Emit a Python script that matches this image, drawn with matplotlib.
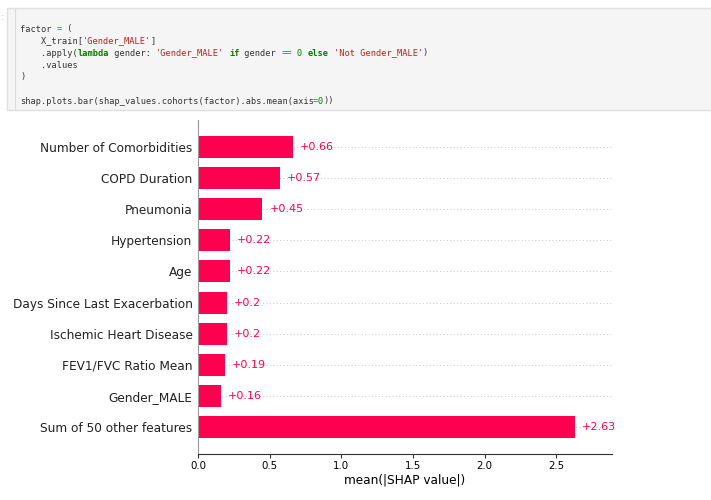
import matplotlib.pyplot as plt
from matplotlib.patches import Rectangle

# feature names and mean(|SHAP|) values, top to bottom
features = ["Number of Comorbidities", "COPD Duration", "Pneumonia", "Hypertension",
            "Age", "Days Since Last Exacerbation", "Ischemic Heart Disease",
            "FEV1/FVC Ratio Mean", "Gender_MALE", "Sum of 50 other features"]
values = [0.66, 0.57, 0.45, 0.22, 0.22, 0.2, 0.2, 0.19, 0.16, 2.63]
labels = ["+0.66", "+0.57", "+0.45", "+0.22", "+0.22", "+0.2", "+0.2", "+0.19", "+0.16", "+2.63"]

# code cell text, split in (text, kind) pieces for the highlighting
code_lines = [
    [("factor ", "t"), ("=", "op"), (" (", "t")],
    [("    X_train[", "t"), ("'Gender_MALE'", "s"), ("]", "t")],
    [("    .apply(", "t"), ("lambda", "k"), (" gender: ", "t"), ("'Gender_MALE'", "s"), (" ", "t"),
     ("if", "k"), (" gender ", "t"), ("==", "op"), (" ", "t"), ("0", "n"), (" ", "t"),
     ("else", "k"), (" ", "t"), ("'Not Gender_MALE'", "s"), (")", "t")],
    [("    .values", "t")],
    [(")", "t")],
    [],
    [("shap.plots.bar(shap_values.cohorts(factor).abs.mean(axis", "t"), ("=", "op"), ("0", "n"), ("))", "t")],
]
colors = {"t": "#333333", "op": "#aa22ff", "s": "#ba2121", "k": "#008000", "n": "#008000"}

red = "#ff0051"
W, H = 711, 500

fig = plt.figure(figsize=(7.11, 5.0), dpi=100)

# code cell box
fig.patches.append(Rectangle((7 / W, 1 - 110 / H), 1.0, 102 / H, transform=fig.transFigure,
                             facecolor="#f5f5f5", edgecolor="#e0e0e0", lw=1, zorder=0))
fig.add_artist(plt.Line2D([15 / W, 15 / W], [1 - 109 / H, 1 - 9 / H], transform=fig.transFigure,
                          color="#dddddd", lw=0.8))
fig.text(1 / W, 1 - 17 / H, ":", color="#bbbbbb", fontsize=7, va="center", ha="left")

code_fs = 6.25
cw = code_fs / 72 * 100 * 1233 / 2048  # advance of DejaVu Sans Mono in pixels
for i, line in enumerate(code_lines):
    col = 0
    y = 1 - (29 + 12 * i) / H
    for txt, kind in line:
        if txt.strip():
            fig.text((20 + col * cw) / W, y, txt, family="DejaVu Sans Mono", fontsize=code_fs,
                     color=colors[kind], fontweight="bold" if kind == "k" else "normal",
                     va="center", ha="left")
        col += len(txt)

ax = fig.add_axes([198 / W, 1 - 454 / H, (612 - 198) / W, (454 - 120) / H])
ypos = list(range(len(features)))

for y in ypos:
    ax.axhline(y, color="#c8c8c8", lw=0.7, dashes=(1, 2.5), zorder=0)
ax.barh(ypos, values, height=0.7, color=red, zorder=2)
for y, v, lab in zip(ypos, values, labels):
    ax.annotate(lab, (v, y), xytext=(5, 0), textcoords="offset points",
                va="center", ha="left", color=red, fontsize=8)

ax.set_yticks(ypos)
ax.set_yticklabels(features, fontsize=8.7, color="#222222")
ax.set_ylim(len(features) - 1 + 0.856, -0.856)
ax.set_xlim(0, 2.89)
ax.set_xticks([0, 0.5, 1.0, 1.5, 2.0, 2.5])
ax.set_xticklabels(["0.0", "0.5", "1.0", "1.5", "2.0", "2.5"])
ax.tick_params(axis="y", length=0, pad=4)
ax.tick_params(axis="x", labelsize=7.4, length=3, pad=2, color="#333333")
ax.set_xlabel("mean(|SHAP value|)", fontsize=8.7, labelpad=1.5)
ax.spines["top"].set_visible(False)
ax.spines["right"].set_visible(False)
ax.spines["left"].set_color("#999999")
ax.spines["bottom"].set_color("#333333")
ax.patch.set_alpha(0)

fig.savefig("out.png", dpi=100)
